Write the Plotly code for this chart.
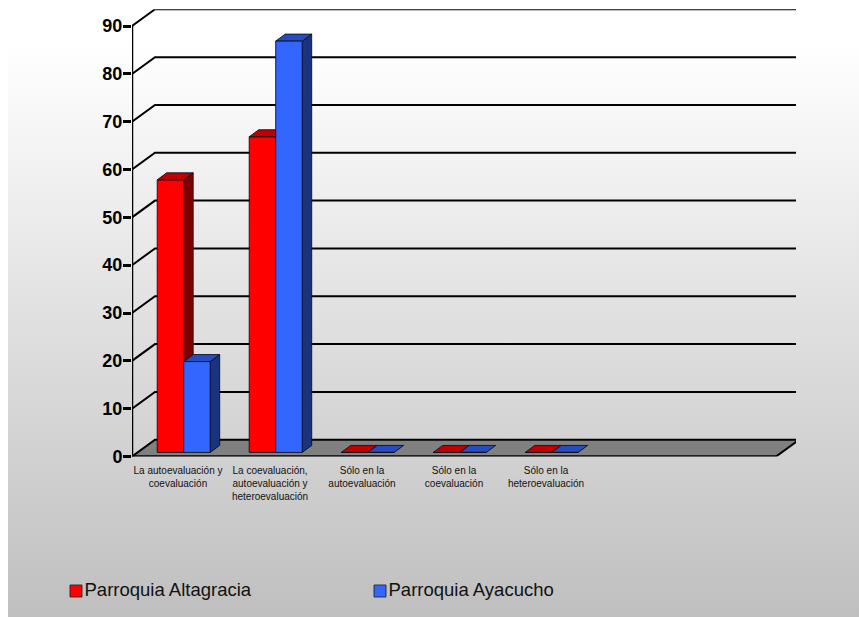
import plotly.graph_objects as go

categories = [
    "La autoevaluación y<br>coevaluación",
    "La coevaluación,<br>autoevaluación y<br>heteroevaluación",
    "Sólo en la<br>autoevaluación",
    "Sólo en la<br>coevaluación",
    "Sólo en la<br>heteroevaluación",
]
altagracia = [57, 66, 0, 0, 0]
ayacucho = [19, 86, 0, 0, 0]
y_ticks = [0, 10, 20, 30, 40, 50, 60, 70, 80, 90]
series_names = ["Parroquia Altagracia", "Parroquia Ayacucho"]

W, H = 859, 617
FONT = "Liberation Sans"
EDGE = "rgba(15,15,30,0.9)"
RED, BLUE = "#ff0000", "#3366ff"

# oblique projection, in axis units
X_RANGE = [-0.5, 6.717]
Y_RANGE = [0, 93.5]
N_SLOTS = 7
WALL_DX, WALL_DY = 0.25, 3.5
BAR_W = 0.288
BAR_SHIFT = 0.062
BAR_BASE = 0.85
BAR_DX, BAR_DY = 0.103, 1.46

positions = list(range(len(categories)))


def polys(shapes):
    xs, ys = [], []
    for s in shapes:
        xs += [p[0] for p in s] + [s[0][0], None]
        ys += [p[1] for p in s] + [s[0][1], None]
    return xs, ys


def top_faces(values, left):
    return polys([
        [(p + left, v + BAR_BASE), (p + left + BAR_W, v + BAR_BASE),
         (p + left + BAR_W + BAR_DX, v + BAR_BASE + BAR_DY), (p + left + BAR_DX, v + BAR_BASE + BAR_DY)]
        for p, v in zip(positions, values)
    ])


def side_faces(values, left):
    return polys([
        [(p + left + BAR_W, BAR_BASE), (p + left + BAR_W + BAR_DX, BAR_BASE + BAR_DY),
         (p + left + BAR_W + BAR_DX, v + BAR_BASE + BAR_DY), (p + left + BAR_W, v + BAR_BASE)]
        for p, v in zip(positions, values) if v > 0
    ])


def face(xy, fill, xa, ya):
    return go.Scatter(x=xy[0], y=xy[1], xaxis=xa, yaxis=ya, mode="lines", fill="toself", fillcolor=fill,
                      line=dict(color=EDGE, width=1), showlegend=False, hoverinfo="skip", cliponaxis=False)


def line(xs, ys, width=2):
    return go.Scatter(x=xs, y=ys, xaxis="x2", yaxis="y2", mode="lines", line=dict(color="black", width=width),
                      showlegend=False, hoverinfo="skip", cliponaxis=False)


fig = go.Figure()

# page background panel
fig.add_trace(go.Scatter(
    x=[0, 1, 1, 0, 0], y=[0, 0, 1, 1, 0], xaxis="x", yaxis="y", mode="none", fill="toself",
    fillgradient=dict(type="vertical", colorscale=[[0, "#bfbfbf"], [0.93, "#ffffff"], [1, "#ffffff"]]),
    showlegend=False, hoverinfo="skip",
))


# key at the foot of the page, in the panel's 0-1 coordinates
def key(name, colour, px):
    return go.Scatter(
        x=[(px - 8) / (W - 8)], y=[(H - 591) / H], xaxis="x", yaxis="y", mode="markers+text",
        marker=dict(symbol="square", size=12, color=colour, line=dict(color="rgba(40,40,40,0.9)", width=1)),
        text=[name], textposition="middle right", textfont=dict(family=FONT, size=18.5, color="#111111"),
        showlegend=False, hoverinfo="skip", cliponaxis=False,
    )


fig.add_trace(key(series_names[0], RED, 76))
fig.add_trace(key(series_names[1], BLUE, 380))

x_front_l, x_front_r = X_RANGE[0], X_RANGE[0] + N_SLOTS
x_back_l, x_back_r = x_front_l + WALL_DX, x_front_r + WALL_DX

# floor
fig.add_trace(go.Scatter(
    x=[x_front_l, x_front_r, x_back_r, x_back_l, x_front_l], y=[0, 0, WALL_DY, WALL_DY, 0],
    xaxis="x2", yaxis="y2", mode="none", fill="toself", fillcolor="#808080",
    showlegend=False, hoverinfo="skip", cliponaxis=False,
))
# back wall gridlines and their oblique run-in
gx, gy = [], []
for t in y_ticks:
    gx += [x_front_l, x_back_l, x_back_r, None]
    gy += [t, t + WALL_DY, t + WALL_DY, None]
fig.add_trace(line(gx, gy, 2))
fig.add_trace(line([x_front_r, x_back_r], [0, WALL_DY], 2))
fig.add_trace(line([x_front_l, x_front_r], [0, 0], 2.5))
fig.add_trace(line([x_front_l, x_front_l], [0, y_ticks[-1]], 2.5))

RED_L = BAR_SHIFT - BAR_W
BLUE_L = BAR_SHIFT

# red bars with depth, then the blue depth faces
fig.add_trace(go.Bar(x=positions, y=altagracia, base=BAR_BASE, offset=RED_L, width=BAR_W, xaxis="x3", yaxis="y3",
                     name=series_names[0], marker=dict(color=RED, line=dict(color=EDGE, width=1)),
                     hovertext=categories, showlegend=False))
fig.add_trace(face(side_faces(altagracia, RED_L), "#7f0000", "x3", "y3"))
fig.add_trace(face(top_faces(altagracia, RED_L), "#bf0000", "x3", "y3"))
fig.add_trace(face(side_faces(ayacucho, BLUE_L), "#1a337f", "x3", "y3"))
fig.add_trace(face(top_faces(ayacucho, BLUE_L), "#264cbf", "x3", "y3"))

# blue front faces cover the red side faces
fig.add_trace(go.Bar(x=positions, y=ayacucho, base=BAR_BASE, offset=BLUE_L, width=BAR_W, xaxis="x4", yaxis="y4",
                     name=series_names[1], marker=dict(color=BLUE, line=dict(color=EDGE, width=1)),
                     hovertext=categories, showlegend=False))

hidden = dict(visible=False, fixedrange=True)
fig.update_layout(
    width=W, height=H, autosize=False,
    margin=dict(l=0, r=0, t=0, b=0, autoexpand=False),
    paper_bgcolor="white", plot_bgcolor="rgba(0,0,0,0)",
    barmode="overlay", showlegend=False,
    font=dict(family=FONT, color="black"),
    xaxis=dict(domain=[8 / W, 1], range=[0, 1], **hidden),
    yaxis=dict(domain=[0, 1], range=[0, 1], **hidden),
    xaxis2=dict(
        domain=[132 / W, 796 / W], range=X_RANGE, anchor="y2", fixedrange=True, showgrid=False, zeroline=False,
        showline=False, tickmode="array", tickvals=positions, ticktext=categories, ticks="", tickangle=0,
        ticklabelstandoff=6, tickfont=dict(family=FONT, size=10, color="#111111"),
    ),
    yaxis2=dict(
        domain=[(H - 456.5) / H, (H - 9.3) / H], range=Y_RANGE, anchor="x2", fixedrange=True, showgrid=False,
        zeroline=False, showline=False, tickmode="array", tickvals=y_ticks, ticks="outside", ticklen=8,
        tickwidth=2.5, tickcolor="black", ticklabelstandoff=-3,
        tickfont=dict(family=FONT, size=18, color="black", weight="bold"),
    ),
    xaxis3=dict(overlaying="x2", range=X_RANGE, **hidden),
    yaxis3=dict(overlaying="y2", range=Y_RANGE, **hidden),
    xaxis4=dict(overlaying="x2", range=X_RANGE, **hidden),
    yaxis4=dict(overlaying="y2", range=Y_RANGE, **hidden),
)

fig.write_html("out.html", config={"displayModeBar": False},
               post_script="document.body.style.margin='0';")
